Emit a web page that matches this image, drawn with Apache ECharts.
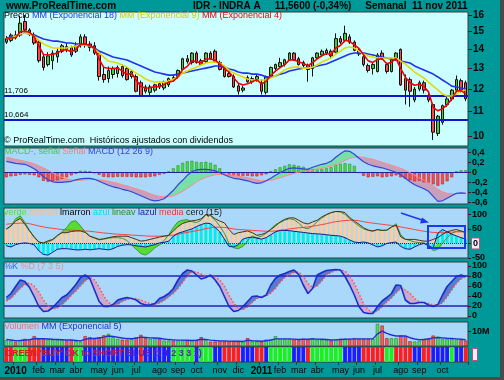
<!DOCTYPE html>
<html><head><meta charset="utf-8">
<script src="https://cdn.jsdelivr.net/npm/echarts@6/dist/echarts.min.js"></script>
<style>html,body{margin:0;padding:0;background:#009999;overflow:hidden}#c{width:504px;height:380px}</style>
</head><body><div id="c"></div>
<script>
const dates = ['2009-12-18','2009-12-25','2010-01-01','2010-01-08','2010-01-15','2010-01-22','2010-01-29','2010-02-05','2010-02-12','2010-02-19',
'2010-02-26','2010-03-05','2010-03-12','2010-03-19','2010-03-26','2010-04-02','2010-04-09','2010-04-16','2010-04-23','2010-04-30',
'2010-05-07','2010-05-14','2010-05-21','2010-05-28','2010-06-04','2010-06-11','2010-06-18','2010-06-25','2010-07-02','2010-07-09',
'2010-07-16','2010-07-23','2010-07-30','2010-08-06','2010-08-13','2010-08-20','2010-08-27','2010-09-03','2010-09-10','2010-09-17',
'2010-09-24','2010-10-01','2010-10-08','2010-10-15','2010-10-22','2010-10-29','2010-11-05','2010-11-12','2010-11-19','2010-11-26',
'2010-12-03','2010-12-10','2010-12-17','2010-12-24','2010-12-31','2011-01-07','2011-01-14','2011-01-21','2011-01-28','2011-02-04',
'2011-02-11','2011-02-18','2011-02-25','2011-03-04','2011-03-11','2011-03-18','2011-03-25','2011-04-01','2011-04-08','2011-04-15',
'2011-04-22','2011-04-29','2011-05-06','2011-05-13','2011-05-20','2011-05-27','2011-06-03','2011-06-10','2011-06-17','2011-06-24',
'2011-07-01','2011-07-08','2011-07-15','2011-07-22','2011-07-29','2011-08-05','2011-08-12','2011-08-19','2011-08-26','2011-09-02',
'2011-09-09','2011-09-16','2011-09-23','2011-09-30','2011-10-07','2011-10-14','2011-10-21','2011-10-28','2011-11-04','2011-11-11'];
const monthNames = ['ene','feb','mar','abr','may','jun','jul','ago','sep','oct','nov','dic'];

const open = [14.40,14.50,14.80,14.80,15.60,15.10,14.80,14.40,13.60,13.20,
13.40,13.60,13.90,14.15,14.10,13.90,14.20,14.70,14.30,14.20,
13.80,12.70,12.50,12.70,12.75,13.10,13.00,12.60,12.60,12.30,
12.10,11.85,11.95,12.25,12.05,12.20,12.55,12.60,12.95,13.50,
13.30,13.80,13.40,13.35,13.80,13.90,13.30,13.00,12.75,12.60,
12.15,11.95,12.55,12.35,12.45,12.30,11.85,12.60,13.00,13.10,
13.20,13.45,13.80,13.50,13.30,13.15,13.00,13.55,13.70,13.80,
13.90,13.85,14.60,14.50,14.70,14.40,13.95,13.60,13.15,13.00,
12.85,13.80,13.20,12.85,13.50,14.00,12.50,12.45,11.50,12.00,
12.30,11.70,11.30,10.10,10.55,11.30,11.55,11.95,12.40,12.30];
const high = [14.75,14.90,15.05,15.95,16.00,15.20,14.95,14.50,13.70,13.85,
13.95,14.05,14.30,14.35,14.20,14.40,14.85,14.85,14.45,14.40,
13.90,13.10,13.10,13.10,13.15,13.20,13.10,12.95,12.70,12.40,
12.20,12.20,12.25,12.35,12.40,12.55,12.70,12.95,13.55,13.70,
13.85,13.90,13.50,13.85,13.90,14.00,13.40,13.10,12.85,12.70,
12.25,12.15,12.65,12.60,12.70,12.45,12.65,13.10,13.25,13.55,
13.50,13.85,13.85,13.60,13.40,13.25,13.60,13.85,14.00,14.05,
14.00,14.90,14.75,15.35,14.85,14.50,14.05,13.70,13.25,13.30,
13.80,13.95,13.30,13.55,13.85,14.05,12.70,12.55,12.10,12.40,
12.40,11.80,11.35,10.85,11.30,11.65,12.00,12.65,12.50,12.40];
const low = [14.30,14.40,14.55,14.70,14.95,14.75,14.25,13.30,12.90,13.10,
12.95,13.30,13.80,13.85,13.60,13.80,14.10,14.10,13.90,13.70,
12.40,12.30,12.30,12.50,12.55,12.55,12.40,12.50,11.85,11.65,
11.80,11.65,11.85,12.00,11.95,12.10,12.35,12.50,12.90,13.25,
13.20,13.25,13.15,13.25,13.45,13.30,12.90,12.55,12.55,12.05,
11.75,11.85,12.30,12.25,12.35,11.75,11.75,12.55,12.90,13.05,
13.10,13.40,13.40,13.15,13.05,12.35,12.60,13.45,13.60,13.70,
13.55,13.80,14.30,14.40,14.30,13.90,13.65,13.10,12.80,12.70,
12.80,13.45,12.75,12.80,13.40,12.15,11.30,11.20,11.40,11.90,
11.80,11.40,9.85,10.00,10.45,11.20,11.45,11.85,11.85,11.45];
const close = [14.60,14.80,14.65,15.50,15.10,14.85,14.35,13.40,13.05,13.65,
13.80,13.90,14.20,14.00,13.70,14.20,14.70,14.30,14.10,13.80,
12.60,12.45,12.90,13.00,13.05,12.65,12.45,12.85,11.90,11.70,
11.90,12.10,12.20,12.10,12.35,12.50,12.45,12.90,13.50,13.35,
13.80,13.30,13.20,13.80,13.50,13.35,12.95,12.60,12.60,12.10,
11.90,12.05,12.35,12.50,12.60,11.90,12.60,13.05,13.20,13.30,
13.45,13.80,13.45,13.20,13.15,12.95,13.55,13.80,13.90,13.95,
13.65,14.60,14.40,14.90,14.40,13.95,13.75,13.20,12.90,13.20,
13.70,13.55,12.85,13.45,13.80,12.20,11.95,11.90,12.00,12.30,
11.95,11.50,10.15,10.80,11.25,11.55,11.95,12.45,11.95,11.56];
const ema4 = [14.55,14.65,14.65,14.99,15.03,14.96,14.72,14.19,13.73,13.70,
13.74,13.80,13.96,13.98,13.87,14.00,14.28,14.29,14.21,14.05,
13.47,13.06,13.00,13.00,13.02,12.87,12.70,12.76,12.42,12.13,
12.04,12.06,12.12,12.11,12.21,12.33,12.38,12.59,12.95,13.11,
13.39,13.35,13.29,13.49,13.49,13.43,13.24,12.98,12.83,12.54,
12.28,12.19,12.25,12.35,12.45,12.23,12.38,12.65,12.87,13.04,
13.20,13.44,13.44,13.34,13.26,13.14,13.30,13.50,13.66,13.78,
13.73,14.08,14.21,14.49,14.45,14.25,14.05,13.71,13.39,13.31,
13.47,13.50,13.24,13.32,13.51,12.99,12.57,12.30,12.18,12.23,
12.12,11.87,11.18,11.03,11.12,11.29,11.55,11.91,11.93,11.78];
const ema9 = [14.58,14.63,14.75,14.86,14.92,14.86,14.75,14.52,14.30,14.19,
14.08,14.08,14.08,14.08,14.13,14.19,14.24,14.24,14.19,14.02,
13.81,13.59,13.38,13.33,13.28,13.18,13.07,12.92,12.77,12.63,
12.48,12.38,12.33,12.33,12.33,12.38,12.48,12.58,12.77,12.87,
12.97,13.07,13.18,13.28,13.33,13.33,13.28,13.13,12.92,12.77,
12.67,12.58,12.48,12.43,12.43,12.43,12.43,12.53,12.63,12.77,
12.92,13.02,13.07,13.07,13.02,13.02,13.07,13.18,13.33,13.44,
13.54,13.75,13.91,14.08,14.13,14.08,13.91,13.75,13.65,13.59,
13.54,13.54,13.54,13.54,13.54,13.38,13.23,13.02,12.82,12.67,
12.53,12.33,12.14,11.96,11.77,11.68,11.68,11.77,11.91,11.96];
const ema18 = [14.63,14.69,14.75,14.86,14.92,14.86,14.80,14.69,14.58,14.52,
14.46,14.46,14.41,14.35,14.35,14.30,14.30,14.24,14.19,14.08,
13.91,13.81,13.70,13.59,13.54,13.49,13.44,13.33,13.23,13.13,
13.02,12.92,12.82,12.77,12.72,12.67,12.67,12.72,12.77,12.82,
12.87,12.92,12.97,13.02,13.07,13.13,13.13,13.07,12.97,12.92,
12.82,12.77,12.77,12.72,12.72,12.67,12.58,12.58,12.63,12.72,
12.77,12.87,12.92,12.97,13.02,13.02,13.07,13.13,13.18,13.23,
13.33,13.44,13.54,13.65,13.75,13.81,13.81,13.81,13.75,13.70,
13.65,13.59,13.54,13.49,13.44,13.38,13.33,13.28,13.13,13.02,
12.92,12.82,12.72,12.58,12.43,12.29,12.14,12.10,12.05,12.00];
const levels = [11.706, 10.664];
const priceTicks = [10,11,12,13,14,15,16];

const macd = [0.22,0.20,0.18,0.17,0.16,0.12,0.07,0.00,-0.09,-0.15,
-0.19,-0.20,-0.20,-0.19,-0.18,-0.15,-0.13,-0.12,-0.12,-0.14,
-0.18,-0.22,-0.26,-0.29,-0.31,-0.34,-0.36,-0.39,-0.43,-0.47,
-0.51,-0.55,-0.57,-0.56,-0.53,-0.45,-0.36,-0.25,-0.16,-0.06,
0.01,0.05,0.06,0.06,0.05,0.03,-0.01,-0.05,-0.09,-0.12,
-0.13,-0.15,-0.17,-0.20,-0.22,-0.21,-0.17,-0.12,-0.06,-0.01,
0.04,0.08,0.09,0.08,0.07,0.06,0.10,0.13,0.16,0.18,
0.22,0.30,0.37,0.43,0.42,0.36,0.28,0.21,0.16,0.13,
0.11,0.09,0.06,0.03,0.00,-0.05,-0.12,-0.19,-0.25,-0.29,
-0.33,-0.38,-0.48,-0.58,-0.57,-0.52,-0.47,-0.42,-0.41,-0.42];
const signal = [0.30,0.28,0.26,0.24,0.22,0.20,0.17,0.13,0.09,0.04,
-0.01,-0.06,-0.10,-0.13,-0.15,-0.16,-0.16,-0.15,-0.14,-0.14,
-0.15,-0.16,-0.18,-0.20,-0.22,-0.25,-0.27,-0.30,-0.33,-0.36,
-0.39,-0.43,-0.46,-0.48,-0.49,-0.49,-0.47,-0.43,-0.38,-0.32,
-0.26,-0.19,-0.14,-0.10,-0.07,-0.05,-0.04,-0.04,-0.05,-0.06,
-0.08,-0.09,-0.11,-0.13,-0.15,-0.17,-0.17,-0.16,-0.14,-0.11,
-0.08,-0.05,-0.02,0.00,0.02,0.03,0.04,0.06,0.08,0.10,
0.12,0.15,0.19,0.24,0.28,0.30,0.31,0.30,0.28,0.26,
0.23,0.20,0.17,0.14,0.11,0.08,0.04,-0.01,-0.06,-0.11,
-0.16,-0.21,-0.27,-0.34,-0.39,-0.42,-0.43,-0.43,-0.42,-0.42];
const hist = [-0.10,-0.08,-0.07,-0.05,-0.04,-0.05,-0.06,-0.10,-0.17,-0.19,
-0.18,-0.16,-0.13,-0.10,-0.06,-0.03,0.03,0.03,0.02,-0.02,
-0.05,-0.09,-0.10,-0.10,-0.09,-0.09,-0.09,-0.09,-0.10,-0.10,
-0.10,-0.09,-0.08,-0.05,-0.03,0.02,0.08,0.14,0.19,0.22,
0.23,0.21,0.20,0.21,0.19,0.15,0.08,-0.02,-0.06,-0.07,
-0.07,-0.07,-0.07,-0.08,-0.08,-0.06,-0.04,0.02,0.06,0.10,
0.13,0.16,0.15,0.13,0.11,0.07,0.06,0.06,0.07,0.08,
0.10,0.15,0.17,0.18,0.17,0.13,-0.01,-0.07,-0.10,-0.09,
-0.08,-0.10,-0.09,-0.08,-0.06,-0.10,-0.13,-0.16,-0.18,-0.17,
-0.20,-0.21,-0.24,-0.27,-0.24,-0.18,-0.10,0.02,0.04,0.04];
const macdTicks = [0.4,0.2,0,-0.2,-0.4,-0.6];

const marron = [50,60,77,86,66,43,23,5,2,9,
14,28,37,37,41,43,43,38,25,20,
14,16,20,23,25,25,25,20,14,8,
10,14,18,22,25,28,43,58,69,74,
78,80,85,100,97,85,77,71,48,31,
37,40,43,37,28,31,37,48,60,74,
83,88,88,80,71,67,74,80,91,100,
106,110,110,106,89,77,66,54,46,43,
48,45,46,57,63,23,14,14,14,11,
8,8,14,20,31,40,45,48,43,37];
const azul = [-8,-12,-4,0,2,0,-5,-25,-38,-40,
-30,-20,-18,-18,-20,-22,-22,-20,-22,-20,
-18,-20,-22,-18,-10,-6,-4,-5,-8,-10,
-12,-8,-4,2,4,8,25,35,40,45,
50,58,65,70,68,55,40,15,-10,-12,
-4,15,20,22,18,15,20,30,40,45,
45,44,42,40,38,36,34,33,32,30,
28,27,25,20,12,5,3,5,2,-5,
-12,-8,0,3,5,-10,-18,-20,-12,-4,
0,-8,-15,35,48,40,32,26,20,15];
const lineav = [48,60,85,95,72,45,20,5,0,5,
12,25,40,55,75,78,60,40,25,18,
12,15,18,20,20,18,10,-5,-20,-35,
-40,-30,-15,-5,10,30,55,75,80,82,
75,72,80,98,95,80,60,35,0,-15,
-18,-10,10,25,20,25,35,50,65,72,
80,85,82,70,55,50,60,75,88,98,
106,110,108,100,85,72,60,50,45,42,
47,45,45,55,68,30,15,10,5,3,
2,-5,-25,-20,0,20,35,42,43,37];
const media = [66,68,69,70,70,68,64,60,57,54,
52,50,48,47,46,45,44,43,42,40,
38,36,35,33,32,31,30,29,28,27,
26,25,25,25,26,27,29,32,35,38,
41,44,47,51,54,56,56,55,53,50,
48,47,46,45,44,43,42,42,43,45,
47,50,52,54,55,57,59,62,65,68,
72,75,77,79,80,80,78,75,72,70,
68,66,64,62,60,57,54,51,48,45,
42,40,38,37,37,38,39,40,40,41];
const momTicks = [100,50,0,-50];

const stochK = [37,45,59,72,69,57,39,19,9,10,
17,27,37,42,52,63,77,82,75,52,
29,19,19,23,32,35,37,35,32,25,
22,22,25,35,39,45,55,72,85,92,
90,82,74,77,82,72,59,39,19,9,
11,19,29,39,40,37,42,62,75,82,
85,89,92,83,62,45,55,82,87,91,
92,93,92,79,62,42,19,7,5,5,
19,30,37,45,62,61,32,25,25,27,
27,22,19,23,42,59,69,79,82,79];
const stochD = [30,35,45,55,63,66,60,48,32,20,
14,16,22,31,41,50,60,70,77,72,
58,40,27,22,23,29,33,35,35,32,
28,25,23,26,31,38,45,55,67,80,
88,88,84,80,79,78,72,60,42,26,
16,13,18,27,35,39,40,46,55,67,
77,83,87,88,80,65,57,60,70,82,
87,91,92,90,80,65,45,25,12,8,
10,18,28,36,46,55,52,45,35,28,
27,25,22,21,26,38,52,65,74,78];
const stochTicks = [0,20,40,60,80,100];
const stochLevels = [80,20];

const volume = [4.0,3.5,2.8,4.2,5.0,4.8,6.9,5.0,5.0,4.5,
4.2,4.5,4.0,3.8,4.2,3.3,3.1,6.9,6.2,5.5,
6.2,7.5,8.5,6.2,5.0,4.5,4.5,4.8,6.2,7.8,
5.5,5.0,5.3,5.0,3.8,3.8,3.8,3.8,4.0,3.8,
3.8,4.2,6.2,4.2,3.1,3.1,3.3,3.1,3.1,3.3,
3.1,3.0,5.5,3.1,3.1,3.0,4.5,4.8,6.9,5.0,
5.0,5.0,4.5,4.0,5.0,4.5,5.5,4.5,4.5,4.0,
3.8,4.5,5.0,5.0,5.0,5.5,5.0,5.0,5.0,5.0,
15.5,14.3,5.5,5.5,5.5,7.3,6.9,3.3,3.1,3.5,
5.0,5.5,7.3,6.5,5.0,5.0,5.0,4.5,4.0,3.8];
const volEma = [4.5,4.2,3.7,3.9,4.2,4.4,5.2,5.1,5.1,4.9,
4.7,4.6,4.4,4.2,4.2,3.9,3.6,4.7,5.2,5.3,
5.6,6.2,7.0,6.7,6.1,5.6,5.2,5.1,5.5,6.2,
6.0,5.7,5.6,5.4,4.9,4.5,4.3,4.1,4.1,4.0,
3.9,4.0,4.7,4.6,4.1,3.8,3.6,3.5,3.4,3.3,
3.3,3.2,4.0,3.7,3.5,3.3,3.7,4.1,5.0,5.0,
5.0,5.0,4.8,4.6,4.7,4.7,4.9,4.8,4.7,4.5,
4.2,4.3,4.6,4.7,4.8,5.0,5.0,5.0,5.0,5.0,
8.5,10.4,8.8,7.7,7.0,7.1,7.0,5.8,4.9,4.4,
4.6,4.9,5.7,6.0,5.7,5.4,5.3,5.0,4.7,4.4];
const volTicks = [10];

const signalCodes = ('rrgggrrrbb'+'bbbbrggbbb'+'bbbbbbbbbr'+'bbbbbbgggg'+'gbgggbbrrr'+
  'rbbbrrbggg'+'ggbbbrgggg'+'gggbbbbrrr'+'rrggrrrrbb'+'rrbbbbgbbr').split('');

// ---------- build ----------
const FONT = '"Liberation Sans", Arial, sans-serif';
const BG1 = '#ccffff', BG2 = '#aad8fa';
const L = 4, R = 36;
const gridDefs = [[12,134,BG1],[148,56,BG2],[208,50,BG2],[262,56,BG2],[322,24,BG2],[347,15,BG2]];
const grid = gridDefs.map(g => ({left:L, right:R, top:g[0], height:g[1], show:true,
  backgroundColor:g[2], borderColor:'#3a3a3a', borderWidth:1}));

function monthLabelShown(i){
  if (i === 0 || i > 96) return false;
  return dates[i].slice(5,7) !== dates[i-1].slice(5,7);
}
const xAxis = grid.map((g,gi) => ({
  type:'category', gridIndex:gi, data:dates, boundaryGap:true,
  axisLine:{show:false},
  axisTick: gi===5 ? {show:true, length:3, interval:(i)=>monthLabelShown(i), lineStyle:{color:'#333'}} : {show:false},
  axisLabel: gi===5 ? {show:true, interval:(i)=>monthLabelShown(i), margin:4, hideOverlap:false,
     formatter:(v)=>{ const m=+v.slice(5,7); return m===1 ? '{y|'+v.slice(0,4)+'}' : '{m|'+monthNames[m-1]+'}'; },
     rich:{y:{fontFamily:FONT,fontSize:10,fontWeight:'bold',color:'#000'}, m:{fontFamily:FONT,fontSize:9,color:'#000'}}} : {show:false},
  splitLine:{show:false}
}));

const comma = v => { const r = Math.round(v*10)/10; return (r===0?'0':String(r)).replace('.',','); };
const comma3 = v => v.toFixed(3).replace('.',',');
function yax(gi, opts){
  return Object.assign({gridIndex:gi, position:'right', splitLine:{show:false}, axisLine:{show:false}}, opts);
}
const tickStyle = {color:'#5a1010'};
const yAxis = [
  yax(0,{type:'log', logBase:10, min:9.62, max:16.19,
     axisTick:{show:true,length:4,customValues:priceTicks,lineStyle:tickStyle},
     axisLabel:{customValues:priceTicks, fontFamily:FONT, fontSize:10, fontWeight:'bold', color:'#000', margin:5,
       formatter:v=>String(Math.round(v))}}),
  yax(1,{type:'value', min:-0.634, max:0.486,
     axisTick:{show:true,length:3,customValues:macdTicks,lineStyle:tickStyle},
     axisLabel:{customValues:macdTicks, fontFamily:FONT, fontSize:9, fontWeight:'bold', color:'#000', margin:4, formatter:comma}}),
  yax(2,{type:'value', min:-50, max:122,
     axisTick:{show:true,length:3,customValues:momTicks,lineStyle:tickStyle},
     axisLabel:{customValues:momTicks, fontFamily:FONT, fontSize:9, fontWeight:'bold', color:'#000', margin:4,
       formatter:v=> v===0 ? '{z|0}' : String(v),
       rich:{z:{fontFamily:FONT,fontSize:9,fontWeight:'bold',color:'#000',borderColor:'#c05070',borderWidth:1,backgroundColor:'#e8f0ff',padding:[1,1,0,1]}}}}),
  yax(3,{type:'value', min:-4, max:108,
     axisTick:{show:true,length:3,customValues:stochTicks,lineStyle:tickStyle},
     axisLabel:{customValues:stochTicks, fontFamily:FONT, fontSize:9, fontWeight:'bold', color:'#000', margin:4}}),
  yax(4,{type:'value', min:0, max:16.8,
     axisTick:{show:true,length:3,customValues:volTicks,lineStyle:tickStyle},
     axisLabel:{customValues:volTicks, fontFamily:FONT, fontSize:9, fontWeight:'bold', color:'#000', margin:4, formatter:()=>'10M'}}),
  yax(5,{type:'value', min:0, max:1, axisTick:{show:false}, axisLabel:{show:false}})
];

const line = (gi, data, color, width, extra) => Object.assign({type:'line', xAxisIndex:gi, yAxisIndex:gi, data,
  symbol:'none', silent:true, lineStyle:{color, width}, z:5}, extra||{});

function bands(a, b){
  const base=[], up=[], dn=[];
  for (let i=0;i<a.length;i++){ base.push(Math.min(a[i],b[i])); up.push(a[i]>b[i]?a[i]-b[i]:0); dn.push(b[i]>a[i]?b[i]-a[i]:0); }
  return {base, up, dn};
}
function bandSeries(gi, stack, bd, cUp, cDn, z){
  const common = {type:'line', xAxisIndex:gi, yAxisIndex:gi, symbol:'none', silent:true, stack, stackStrategy:'all', lineStyle:{width:0}, z};
  return [
    Object.assign({}, common, {data:bd.base}),
    Object.assign({}, common, {data:bd.up, areaStyle:{color:cUp, opacity:1}}),
    Object.assign({}, common, {data:bd.dn, areaStyle:{color:cDn, opacity:1}})
  ];
}
const macdB = bands(macd, signal);
const stochB = bands(stochK, stochD);

const vUpBase = marron.slice(), vUp = lineav.map((v,i)=> Math.max(v - marron[i], 0));
const vLoBase = [], vLo = [];
for (let i=0;i<lineav.length;i++){ const floor = Math.min(azul[i],0); if (lineav[i] < floor){ vLoBase.push(lineav[i]); vLo.push(floor-lineav[i]); } else { vLoBase.push(floor); vLo.push(0);} }
const vCommon = (stack) => ({type:'line', xAxisIndex:2, yAxisIndex:2, symbol:'none', silent:true, stack, stackStrategy:'all', lineStyle:{width:0}, z:3});

const series = [
  {type:'candlestick', xAxisIndex:0, yAxisIndex:0, barWidth:3, silent:true, z:4,
    data: open.map((o,i)=>[o, close[i], low[i], high[i]]),
    itemStyle:{color:'#3ccf3c', color0:'#ff4444', borderColor:'#101010', borderColor0:'#101010', borderWidth:1}},
  line(0, ema18, '#2233e6', 1.6),
  line(0, ema9, '#e6d800', 1.6),
  line(0, ema4, '#ee0000', 1.6, {markLine:{silent:true, symbol:'none', animation:false,
     lineStyle:{color:'#1414c8', width:2, type:'solid'},
     data: levels.map(v=>({yAxis:v, label:{position:'insideStartTop', distance:[0,1], fontFamily:FONT, fontSize:8, color:'#000', formatter:comma3(v)}}))}}),
  ...bandSeries(1, 'macdband', macdB, '#77e0a8', '#c8a0bc', 2),
  {type:'bar', xAxisIndex:1, yAxisIndex:1, barWidth:3, silent:true, z:3,
    data: hist.map(v=>({value:v, itemStyle:{color: v>=0 ? '#44dd44' : '#ff4a4a', borderColor: v>=0 ? '#209020':'#b02020', borderWidth:0.5}}))},
  line(1, signal, '#ff8888', 1),
  line(1, macd, '#3344dd', 1.2, {markLine:{silent:true, symbol:'none', animation:false, label:{show:false},
     lineStyle:{color:'#2020a0', width:1, type:'solid'}, data:[{yAxis:0}]}}),
  {type:'bar', xAxisIndex:2, yAxisIndex:2, barWidth:3, barGap:'-100%', silent:true, z:2, data:marron, itemStyle:{color:'#ffcc99'}},
  {type:'bar', xAxisIndex:2, yAxisIndex:2, barWidth:3, barGap:'-100%', silent:true, z:2, data:azul, itemStyle:{color:'#00eef0'}},
  Object.assign(vCommon('vup'), {data:vUpBase}),
  Object.assign(vCommon('vup'), {data:vUp, areaStyle:{color:'#55dd33', opacity:1}}),
  Object.assign(vCommon('vlo'), {data:vLoBase}),
  Object.assign(vCommon('vlo'), {data:vLo, areaStyle:{color:'#55dd33', opacity:1}}),
  line(2, media, '#ff4040', 1),
  line(2, lineav, '#3a9a3a', 1),
  line(2, marron, '#4a3018', 1),
  line(2, azul, '#1a1a90', 1, {markLine:{silent:true, symbol:'none', animation:false, label:{show:false},
     lineStyle:{color:'#334', width:1, type:'dotted'}, data:[{yAxis:0}]}}),
  ...bandSeries(3, 'stband', stochB, '#5a7ccc', '#ccaacc', 2),
  line(3, stochD, '#ff5050', 1.5, {lineStyle:{color:'#ff5050', width:1.5, type:[1.5,2]}}),
  line(3, stochK, '#1a2ed0', 1.6, {markLine:{silent:true, symbol:'none', animation:false, label:{show:false},
     lineStyle:{color:'#2020c0', width:1.5, type:'solid'}, data: stochLevels.map(v=>({yAxis:v}))}}),
  {type:'bar', xAxisIndex:4, yAxisIndex:4, barWidth:3.4, silent:true, z:2,
    data: volume.map((v,i)=>({value:v, itemStyle:{color: close[i]>=open[i] ? '#55e055' : '#ff5a5a',
       borderColor: close[i]>=open[i] ? '#208020' : '#a02020', borderWidth:0.6}}))},
  line(4, volEma, '#2030d0', 1.4),
  {type:'bar', xAxisIndex:5, yAxisIndex:5, barWidth:3.8, silent:true, z:2,
    data: signalCodes.map(c=>({value:1, itemStyle:{color: c==='r' ? '#ff1c1c' : (c==='g' ? '#1cf01c' : '#1c1cff')}}))}
];

const txt = (x,y,text,rich,font) => ({type:'text', x, y, silent:true, z:100,
  style:{text, rich, font: font || ('9px ' + FONT), textVerticalAlign:'middle', fill:'#000'}});
const graphic = [
  {type:'rect', shape:{x:500,y:0,width:4,height:380}, style:{fill:'#4a4a4a'}, silent:true},
  {type:'rect', shape:{x:0,y:377,width:504,height:3}, style:{fill:'#4a4a4a'}, silent:true},
  txt(6, 6, 'www.ProRealTime.com', null, 'bold 10px ' + FONT),
  txt(193, 6, 'IDR - INDRA A     11,5600 (-0,34%)     Semanal  11 nov 2011', null, 'bold 10px ' + FONT),
  txt(4, 16, '{a|Precio} {b|MM (Exponencial 18)} {c|MM (Exponencial 9)} {d|MM (Exponencial 4)}',
     {a:{fill:'#000',fontSize:9,fontFamily:FONT}, b:{fill:'#2233e6',fontSize:9,fontFamily:FONT}, c:{fill:'#d8cc00',fontSize:9,fontFamily:FONT}, d:{fill:'#ee0000',fontSize:9,fontFamily:FONT}}),
  txt(4, 141, '© ProRealTime.com  Históricos ajustados con dividendos', null, '9px ' + FONT),
  txt(4, 152, '{a|MACD-, señal} {b|Señal} {c|MACD (12 26 9)}',
     {a:{fill:'#44cc44',fontSize:9,fontFamily:FONT}, b:{fill:'#ee8080',fontSize:9,fontFamily:FONT}, c:{fill:'#3344dd',fontSize:9,fontFamily:FONT}}),
  txt(4, 213, '{a|verde} {b|marron} {c|lmarron} {d|azul} {e|lineav} {f|lazul} {g|media} {h|cero (15)}',
     {a:{fill:'#55dd33',fontSize:9,fontFamily:FONT}, b:{fill:'#ffbb77',fontSize:9,fontFamily:FONT}, c:{fill:'#000',fontSize:9,fontFamily:FONT},
      d:{fill:'#00e0e8',fontSize:9,fontFamily:FONT}, e:{fill:'#2a8a2a',fontSize:9,fontFamily:FONT}, f:{fill:'#1a1a90',fontSize:9,fontFamily:FONT},
      g:{fill:'#ff3030',fontSize:9,fontFamily:FONT}, h:{fill:'#202020',fontSize:9,fontFamily:FONT}}),
  txt(4, 267, '{a|%K} {b|%D (7 3 5)}', {a:{fill:'#4060d0',fontSize:9,fontFamily:FONT}, b:{fill:'#e89090',fontSize:9,fontFamily:FONT}}),
  txt(4, 327, '{a|Volumen} {b|MM (Exponencial 5)}', {a:{fill:'#ee7070',fontSize:9,fontFamily:FONT}, b:{fill:'#2233cc',fontSize:9,fontFamily:FONT}}),
  txt(5, 354, "{a|GREEN 'BUY'} {b|OK to SHORT} {c|BLUE (1 1 2 3 3 1)}",
     {a:{fill:'#d02020',fontSize:9,fontWeight:'bold',fontFamily:FONT}, b:{fill:'#c02050',fontSize:9,fontWeight:'bold',fontFamily:FONT}, c:{fill:'#6020b0',fontSize:9,fontWeight:'bold',fontFamily:FONT}}),
  {type:'line', shape:{x1:401,y1:213,x2:425,y2:221}, style:{stroke:'#1a3af0', lineWidth:1.5}, silent:true, z:100},
  {type:'polygon', shape:{points:[[429,222.5],[422,217.5],[420,223.5]]}, style:{fill:'#1a3af0'}, silent:true, z:100},
  {type:'rect', shape:{x:428,y:226,width:37,height:22}, style:{fill:null, stroke:'#1a3af0', lineWidth:2}, silent:true, z:100},
  {type:'rect', shape:{x:472.5,y:348.5,width:5,height:12}, style:{fill:'#e8f0ff', stroke:'#c05070', lineWidth:1}, silent:true, z:100}
];

const chart = echarts.init(document.getElementById('c'), null, {renderer:'canvas'});
chart.setOption({backgroundColor:'#009999', animation:false, grid, xAxis, yAxis, series, graphic});
</script></body></html>
